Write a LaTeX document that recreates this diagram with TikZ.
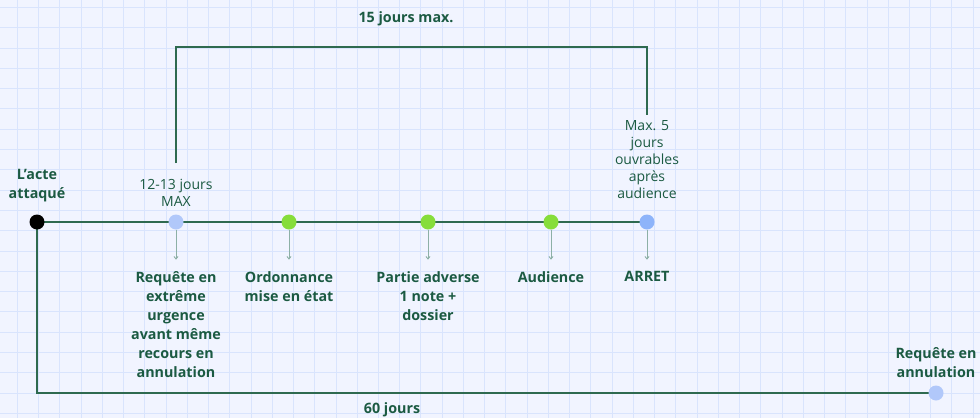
\documentclass[tikz,border=0pt]{standalone}
\usepackage{fontspec}
\setmainfont{Open Sans}
\usetikzlibrary{arrows.meta}
\definecolor{paper}{HTML}{F1F4FF}
\definecolor{gridline}{HTML}{D9E4FD}
\definecolor{ink}{HTML}{1B5A42}
\definecolor{rail}{HTML}{2E6A50}
\definecolor{tick}{HTML}{8DB0A6}
\definecolor{dotgreen}{HTML}{86DD3A}
\definecolor{dotblue}{HTML}{8EB4FA}
\definecolor{dotpale}{HTML}{B1C8FA}
\tikzset{
  milestone/.style={circle, inner sep=0pt, minimum size=15pt},
  bold label/.style={font=\bfseries\fontsize{14.3}{19}\selectfont, text=ink, align=center, inner sep=0pt},
  plain label/.style={font=\fontsize{14}{17}\selectfont, text=ink, align=center, inner sep=0pt},
  railline/.style={draw=rail, line width=1.5pt},
  pointer/.style={draw=tick, line width=0.9pt, -{Straight Barb[length=2.5pt,width=4pt]}},
}
\begin{document}
\begin{tikzpicture}[x=1pt, y=-1pt]
  \useasboundingbox (0,0) rectangle (980,418);
  % squared paper
  \begin{scope}
    \clip (0,0) rectangle (980,418);
    \fill[paper] (0,0) rectangle (980,418);
    \foreach \gx in {0,...,45} \draw[gridline, line width=0.8pt] ({17.3+21.24*\gx},0) -- ({17.3+21.24*\gx},418);
    \foreach \gy in {0,...,20} \draw[gridline, line width=0.8pt] (0,{7.3+20.3*\gy}) -- (980,{7.3+20.3*\gy});
  \end{scope}

  % milestones on the time line
  \coordinate (acteC) at (37,222);
  \coordinate (reqC) at (936,393);

  % deadline labels above the line
  \node[plain label, anchor=north] (l12) at (176,179) {12-13 jours\\MAX};
  \node[plain label, anchor=north] (l5) at (647,120) {Max. 5\\jours\\ouvrables\\après\\audience};
  \node[bold label] (acteL) at (37,185.5) {L’acte\\attaqué};

  % 15-day bracket and 60-day return line
  \coordinate (top) at (400,47);
  \draw[railline, line width=1.3pt, shorten <=16pt, shorten >=5pt] (l12.north) |- (top) -| (l5.north);
  \draw[railline] (acteC) -- (647,222);
  \draw[railline] (acteC) |- (reqC);

  \node[milestone, fill=black] (acte) at (acteC) {};
  \node[milestone, fill=dotpale] (urg) at (176,222) {};
  \node[milestone, fill=dotgreen] (ord) at (289,222) {};
  \node[milestone, fill=dotgreen] (adv) at (428,222) {};
  \node[milestone, fill=dotgreen] (aud) at (551,222) {};
  \node[milestone, fill=dotblue] (arret) at (647,222) {};
  \node[milestone, fill=dotpale] (req) at (reqC) {};

  % step descriptions below the line
  \node[bold label, anchor=north] (urgL) at (176,271.5) {Requête en\\extrême\\urgence\\avant même\\recours en\\annulation};
  \node[bold label, anchor=north] (ordL) at (289,271.5) {Ordonnance\\mise en état};
  \node[bold label, anchor=north] (advL) at (428,271.5) {Partie adverse\\1 note +\\dossier};
  \node[bold label, anchor=north] (audL) at (551,271.5) {Audience};
  \node[bold label, anchor=north] (arretL) at (647,271.5) {ARRET};
  \node[bold label] (reqL) at (936,363) {Requête en\\annulation};

  \foreach \d in {urg,ord,adv,aud,arret}
    \draw[pointer] (\d.south) -- ++(0,30);

  \node[bold label] (t15) at (406,19) {15 jours max.};
  \node[bold label] (t60) at (392,410) {60 jours};
\end{tikzpicture}
\end{document}
